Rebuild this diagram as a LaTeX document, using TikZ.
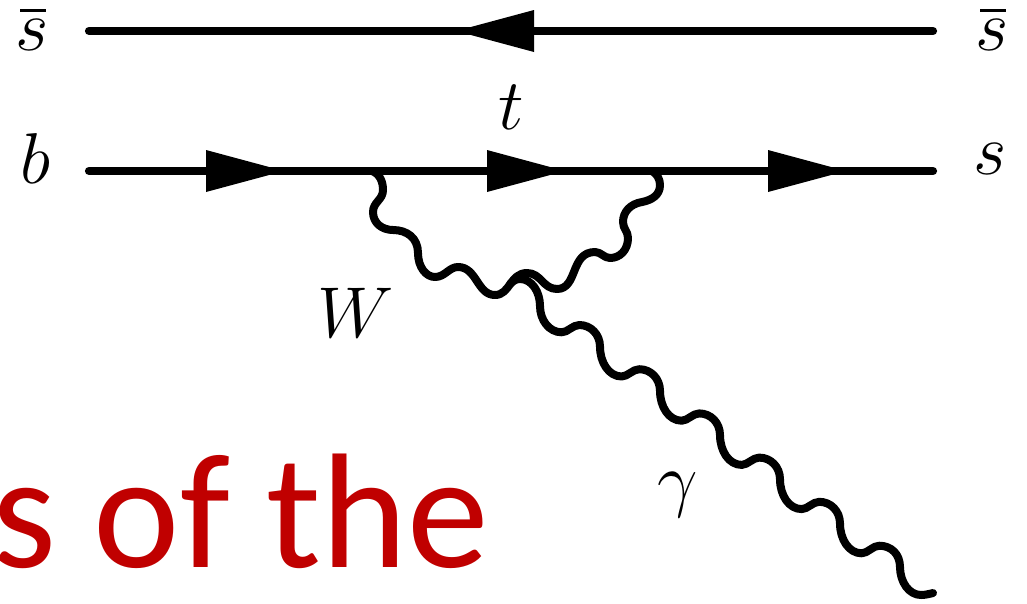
\documentclass[tikz,border=0pt]{standalone}
\usepackage{fix-cm}
\usepackage{fontspec}
\newfontfamily\calfont{Carlito}
\definecolor{slidered}{RGB}{192,0,0}
\tikzset{
  fermion/.style={line width=8.2pt,line cap=round,black},
  boson/.style={line width=8pt,line cap=round,line join=round,black},
  head/.style={fill=black,draw=none},
  label/.style={inner sep=0pt,outer sep=0pt,anchor=base west,font=\fontsize{72}{72}\selectfont},
  slide/.style={inner sep=0pt,outer sep=0pt,anchor=base west,text=slidered,font=\calfont\fontsize{163.5}{163.5}\selectfont}
}
\newcommand{\arrowhead}[1]{\fill[head] (#1) -- ++(-78,-21) -- ++(0,42) -- cycle;}
\newcommand{\sbar}{\rlap{\hspace{5pt}\raisebox{38pt}{\rule{26pt}{3pt}}}$s$}
\begin{document}
\begin{tikzpicture}[x=1pt,y=-1pt]
\useasboundingbox (0,0) rectangle (1027,603);
\coordinate (sL) at (89,31);
\coordinate (sR) at (933,31);
\coordinate (bL) at (89,171);
\coordinate (sO) at (933,171);
\coordinate (v1) at (372,171);
\coordinate (v2) at (652,171);
\coordinate (v3) at (510,284);
\coordinate (gEnd) at (933,593);
\coordinate (a0) at (456,31);
\coordinate (a1) at (284,171);
\coordinate (a2) at (565,171);
\coordinate (a3) at (846,171);
\draw[fermion] (sL) -- (sR);
\draw[fermion] (bL) -- (sO);
\fill[head] (a0) -- ++(78,-21) -- ++(0,42) -- cycle;
\arrowhead{a1}
\arrowhead{a2}
\arrowhead{a3}
% W loop
\draw[boson] (v1)
  .. controls (380,174) and (383,182) .. (383,190)
  .. controls (383,200) and (373,202) .. (373,212)
  .. controls (373,223) and (382,230) .. (393,230)
  .. controls (407,230) and (418,238) .. (418,253)
  .. controls (418,267) and (426,277) .. (435,277)
  .. controls (445,277) and (449,267) .. (458,267)
  .. controls (477,267) and (477,295) .. (495,295)
  .. controls (510,295) and (510,273) .. (527,273)
  .. controls (541,273) and (543,289) .. (557,289)
  .. controls (578,289) and (570,252) .. (595,252)
  .. controls (601,252) and (604,258) .. (610,258)
  .. controls (620,258) and (628,250) .. (628,238)
  .. controls (628,231) and (623,229) .. (623,222)
  .. controls (623,212) and (630,204) .. (642,202)
  .. controls (652,200) and (660,195) .. (660,185)
  .. controls (660,179) and (657,174) .. (v2);
% photon
\draw[boson] (v3)
  .. controls (513,281) and (516,279) .. (520,279)
  .. controls (532,279) and (540,292) .. (540,306)
  .. controls (540,320) and (549,332.3) .. (561.7,332.3)
  \foreach \k [evaluate=\k as \x using 561.7+60*\k, evaluate=\k as \y using 332.3+44.2*\k] in {0,...,4} {
    .. controls (\x+6,\y) and (\x+11,\y-7.3) .. (\x+17.6,\y-7.3)
    .. controls (\x+29,\y-7.3) and (\x+38.3,\y+2) .. (\x+38.3,\y+14.4)
    .. controls (\x+38.3,\y+30) and (\x+47,\y+44.2) .. (\x+60,\y+44.2)
  }
  .. controls (867.7,553.3) and (872.7,545.7) .. (879.3,545.7)
  .. controls (891,545.7) and (900,554) .. (900,567)
  .. controls (900,582) and (909,595) .. (921,595)
  .. controls (925,595) and (929,594) .. (gEnd);
\node[label] (l1) at (15.5,50) {\sbar};
\node[label] (l2) at (975,50) {\sbar};
\node[label] (l3) at (20,183) {$b$};
\node[label] (l4) at (973.5,174) {$s$};
\node[label] (l5) at (498.5,129) {$t$};
\node[label] (l6) at (317,337) {$W$};
\node[label] (l7) at (657,503) {$\gamma$};
\node[slide] (l8) at (-7,567) {s of the};
\end{tikzpicture}
\end{document}
